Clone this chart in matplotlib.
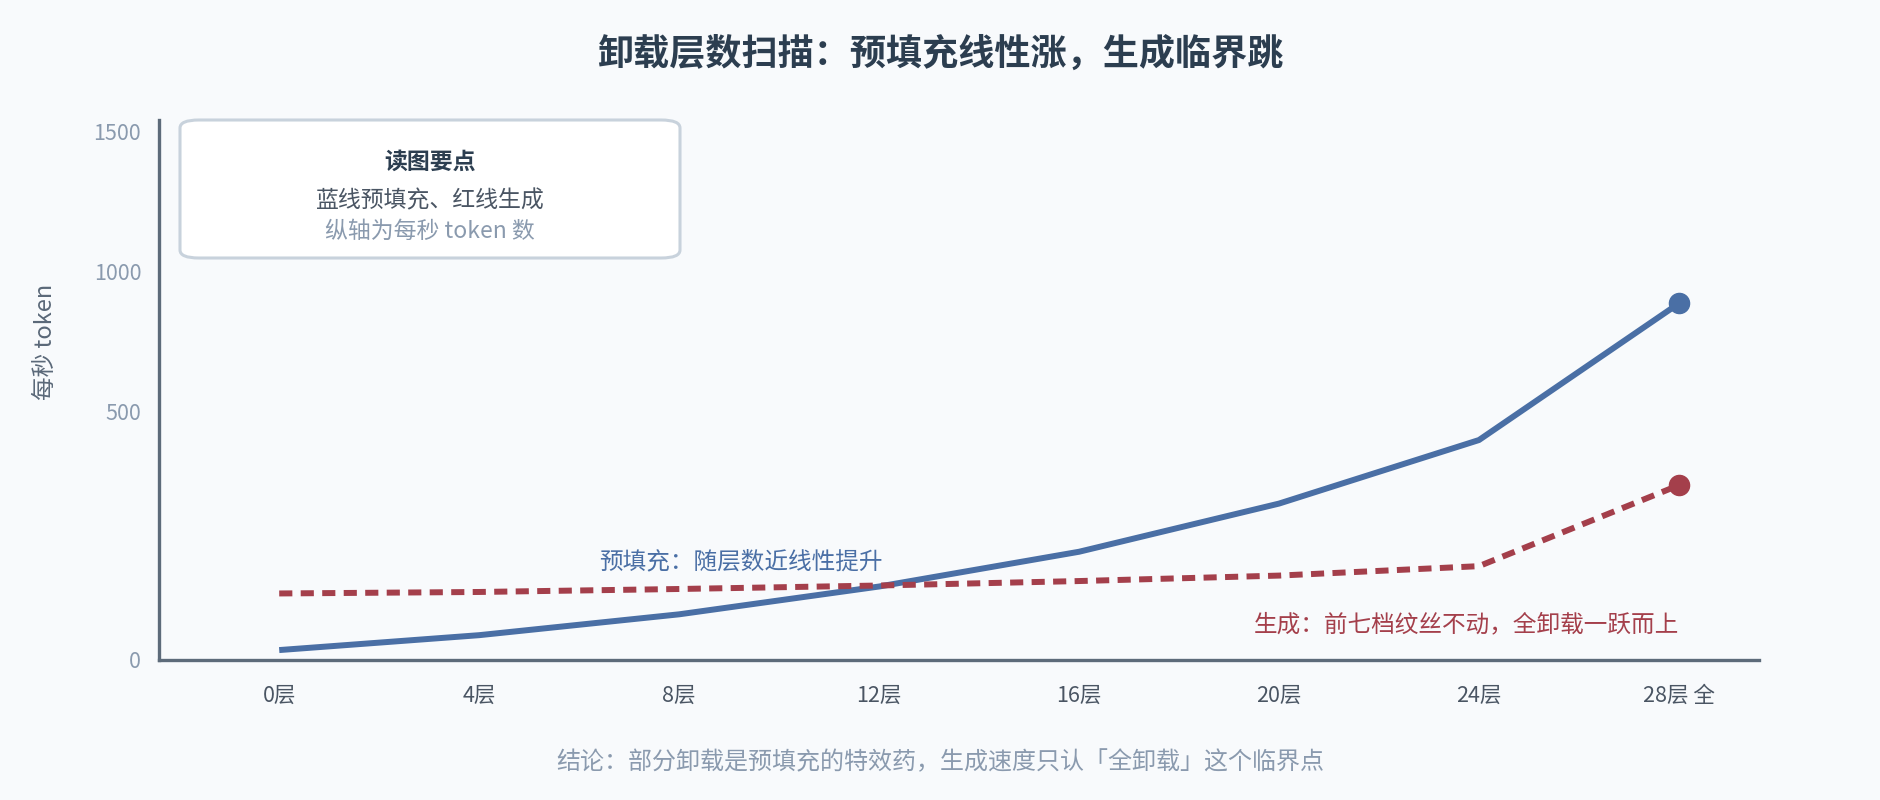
"""Offload layer sweep: prefill vs decode tokens per second."""
import numpy as np
import matplotlib
matplotlib.use("Agg")
import matplotlib.pyplot as plt
from matplotlib.patches import FancyBboxPatch

plt.rcParams['font.family'] = ['Noto Sans CJK SC', 'DejaVu Sans']

# data
layers = ["0层", "4层", "8层", "12层", "16层", "20层", "24层", "28层 全"]
prefill = [20, 50, 92, 148, 218, 315, 443, 887]
decode = [134, 137, 143, 150, 159, 170, 189, 352]
y_ticks = [0, 500, 1000, 1500]

BG = "#f8fafc"
BLUE = "#4a6fa5"
RED = "#a43f4b"
DARK = "#2c3e50"
MID = "#4a5563"
LIGHT = "#8a9aae"
AXIS = "#5d6b7a"

# the value axis is stretched below 500, linear above
K = 1.7736


def fwd(v):
    v = np.asarray(v, dtype=float)
    return np.where(v <= 500, v * K, 500 * K + (v - 500))


def inv(u):
    u = np.asarray(u, dtype=float)
    return np.where(u <= 500 * K, u / K, u - 500 * K + 500)


fig = plt.figure(figsize=(18.8, 8.0), dpi=100)
fig.patch.set_facecolor(BG)
ax = fig.add_axes([0.0847, 0.175, 0.8509, 0.675])
ax.set_facecolor(BG)
ax.set_yscale('function', functions=(fwd, inv))

x = np.arange(len(layers))
ax.plot(x, prefill, color=BLUE, lw=4.3, solid_capstyle='butt', zorder=3)
ax.plot(x, decode, color=RED, lw=4.3, linestyle=(0, (2.2, 1.4)),
        dash_capstyle='butt', zorder=3)
ax.plot(x[-1], prefill[-1], 'o', color=BLUE, ms=14.5, zorder=4)
ax.plot(x[-1], decode[-1], 'o', color=RED, ms=14.5, zorder=4)

ax.set_xlim(-0.6, 7.4)
ax.set_ylim(0, 1542)
ax.set_xticks(x)
ax.set_xticklabels(layers)
ax.set_yticks(y_ticks)
ax.set_yticklabels([str(t) for t in y_ticks])
ax.yaxis.set_minor_locator(matplotlib.ticker.NullLocator())
ax.tick_params(axis='y', length=0, pad=13, labelsize=15.5, labelcolor=LIGHT)
ax.tick_params(axis='x', length=0, pad=18, labelsize=15.5, labelcolor=MID)
for s in ['top', 'right']:
    ax.spines[s].set_visible(False)
for s in ['left', 'bottom']:
    ax.spines[s].set_color(AXIS)
    ax.spines[s].set_linewidth(2.4)

ax.set_ylabel("每秒 token", fontsize=17, color="#5a6878")
ax.yaxis.set_label_coords(-0.064, 0.589)

# inline notes
ax.text(1.6, 175, "预填充：随层数近线性提升", color=BLUE, fontsize=17,
        ha='left', va='bottom')
ax.text(7.0, 71, "生成：前七档纹丝不动，全卸载一跃而上", color=RED,
        fontsize=17, ha='right', va='center')

# reading-guide box
box = FancyBboxPatch((180 / 1880, 1 - 258 / 800), 500 / 1880, 138 / 800,
                     boxstyle="round,pad=0,rounding_size=0.01",
                     transform=fig.transFigure, facecolor="white",
                     edgecolor="#c8d2dc", linewidth=2.2, zorder=5)
fig.add_artist(box)
fig.text(430 / 1880, 1 - 162 / 800, "读图要点", fontsize=16.5, weight='bold',
         color=DARK, ha='center', va='center', zorder=6)
fig.text(430 / 1880, 1 - 201 / 800, "蓝线预填充、红线生成", fontsize=16.5,
         color=MID, ha='center', va='center', zorder=6)
fig.text(430 / 1880, 1 - 231 / 800, "纵轴为每秒 token 数", fontsize=16.5,
         color=LIGHT, ha='center', va='center', zorder=6)

fig.text(0.5, 1 - 54 / 800, "卸载层数扫描：预填充线性涨，生成临界跳",
         fontsize=26, weight='bold', color=DARK, ha='center', va='center')
fig.text(0.5, 1 - 762 / 800,
         "结论：部分卸载是预填充的特效药，生成速度只认「全卸载」这个临界点",
         fontsize=17.3, color=LIGHT, ha='center', va='center')

fig.savefig("out.png", dpi=100, facecolor=BG)
